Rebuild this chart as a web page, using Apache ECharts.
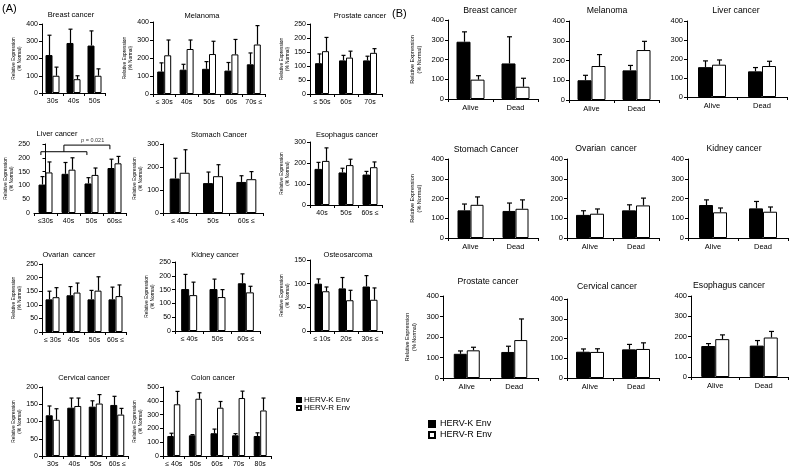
<!DOCTYPE html>
<html>
<head>
<meta charset="utf-8">
<script src="https://cdn.jsdelivr.net/npm/echarts@6/dist/echarts.min.js"></script>
<style>
  html, body { margin: 0; padding: 0; background: #fff; }
  #chart { width: 793px; height: 473px; }
</style>
</head>
<body>
<div id="chart"></div>
<script>
// ---------- (A) expression by age group ----------
const breastA_cats = ['30s', '40s', '50s'];
const breastA_k = [220, 290, 275];
const breastA_kTop = [335, 370, 360];
const breastA_r = [100, 80, 100];
const breastA_rTop = [150, 100, 140];

const melanomaA_cats = ['≤ 30s', '40s', '50s', '60s', '70s ≤'];
const melanomaA_k = [125, 135, 140, 130, 165];
const melanomaA_kTop = [173, 165, 180, 175, 228];
const melanomaA_r = [215, 250, 222, 220, 275];
const melanomaA_rTop = [300, 300, 293, 303, 380];

const prostateA_cats = ['≤ 50s', '60s', '70s'];
const prostateA_k = [110, 120, 120];
const prostateA_kTop = [143, 138, 135];
const prostateA_r = [153, 130, 147];
const prostateA_rTop = [202, 153, 162];

const liverA_cats = ['≤30s', '40s', '50s', '60s≤'];
const liverA_k = [103, 142, 107, 163];
const liverA_kTop = [132, 183, 128, 195];
const liverA_r = [147, 157, 138, 180];
const liverA_rTop = [185, 200, 163, 205];
// significance brackets, in (category position, value) units
const liverA_bracketLow = [[-0.2, 210], [-0.2, 222], [1.8, 222], [1.8, 210]];
const liverA_bracketHigh = [[0.8, 222], [0.8, 246], [2.8, 246], [2.8, 231]];
const liverA_pText = [[2.05, 247]];

const stomachA_cats = ['≤ 40s', '50s', '60s ≤'];
const stomachA_k = [150, 130, 135];
const stomachA_kTop = [238, 178, 162];
const stomachA_r = [175, 160, 147];
const stomachA_rTop = [275, 210, 180];

const esophagusA_cats = ['40s', '50s', '60s ≤'];
const esophagusA_k = [172, 155, 145];
const esophagusA_kTop = [203, 175, 160];
const esophagusA_r = [210, 190, 180];
const esophagusA_rTop = [272, 218, 205];

const ovarianA_cats = ['≤ 30s', '40s', '50s', '60s ≤'];
const ovarianA_k = [120, 135, 120, 120];
const ovarianA_kTop = [150, 167, 153, 165];
const ovarianA_r = [128, 145, 152, 132];
const ovarianA_rTop = [163, 180, 203, 173];

const kidneyA_cats = ['≤ 40s', '50s', '60s ≤'];
const kidneyA_k = [152, 152, 173];
const kidneyA_kTop = [205, 188, 207];
const kidneyA_r = [130, 123, 140];
const kidneyA_rTop = [177, 150, 162];

const osteoA_cats = ['≤ 10s', '20s', '30s ≤'];
const osteoA_k = [100, 90, 94];
const osteoA_kTop = [110, 113, 117];
const osteoA_r = [84, 65, 66];
const osteoA_rTop = [93, 86, 91];

const cervicalA_cats = ['30s', '40s', '50s', '60s ≤'];
const cervicalA_k = [118, 140, 143, 148];
const cervicalA_kTop = [145, 168, 160, 173];
const cervicalA_r = [105, 145, 152, 120];
const cervicalA_rTop = [137, 168, 178, 138];

const colonA_cats = ['≤ 40s', '50s', '60s', '70s', '80s'];
const colonA_k = [145, 150, 165, 150, 145];
const colonA_kTop = [165, 155, 195, 162, 168];
const colonA_r = [375, 415, 350, 420, 330];
const colonA_rTop = [468, 458, 395, 470, 420];

// ---------- (B) expression by survival ----------
const statusCats = ['Alive', 'Dead'];

const breastB_k = [290, 180];
const breastB_kTop = [340, 315];
const breastB_r = [98, 62];
const breastB_rTop = [118, 105];

const melanomaB_k = [100, 150];
const melanomaB_kTop = [125, 175];
const melanomaB_r = [172, 253];
const melanomaB_rTop = [230, 297];

const liverB_k = [157, 135];
const liverB_kTop = [190, 155];
const liverB_r = [170, 163];
const liverB_rTop = [195, 188];

const stomachB_k = [140, 137];
const stomachB_kTop = [172, 177];
const stomachB_r = [168, 148];
const stomachB_rTop = [208, 193];

const ovarianB_k = [117, 140];
const ovarianB_kTop = [138, 168];
const ovarianB_r = [123, 165];
const ovarianB_rTop = [147, 202];

const kidneyB_k = [167, 150];
const kidneyB_kTop = [193, 185];
const kidneyB_r = [130, 133];
const kidneyB_rTop = [152, 157];

const prostateB_k = [118, 127];
const prostateB_kTop = [132, 155];
const prostateB_r = [135, 185];
const prostateB_rTop = [150, 288];

const cervicalB_k = [133, 145];
const cervicalB_kTop = [147, 170];
const cervicalB_r = [132, 147];
const cervicalB_rTop = [148, 178];

const esophagusB_k = [153, 155];
const esophagusB_kTop = [165, 180];
const esophagusB_r = [187, 195];
const esophagusB_rTop = [208, 225];

// ---------- layout ----------
const styleA = { label: 7, name: 4.8, nameLH: 5.5, nameGap: 19, title: 7.5, cap: 2 };
const styleB = { label: 7.5, name: 5.5, nameLH: 7, nameGap: 25, title: 8.7, cap: 2.5 };

// box = [left, top, width, height] of the plot area; tx/ty = title centre
const panels = [
  { title: 'Breast cancer', cats: breastA_cats, k: breastA_k, kTop: breastA_kTop, r: breastA_r, rTop: breastA_rTop, max: 400, step: 100, box: [42, 24, 63, 69], barW: 7, tx: 71, ty: 15, s: styleA, yName: true },
  { title: 'Melanoma', cats: melanomaA_cats, k: melanomaA_k, kTop: melanomaA_kTop, r: melanomaA_r, rTop: melanomaA_rTop, max: 400, step: 100, box: [153, 22, 112, 72], barW: 7, tx: 202, ty: 16, s: styleA, yName: true },
  { title: 'Prostate cancer', cats: prostateA_cats, k: prostateA_k, kTop: prostateA_kTop, r: prostateA_r, rTop: prostateA_rTop, max: 250, step: 50, box: [310, 24, 72, 70], barW: 7, tx: 360, ty: 16, s: styleA, yName: true },
  { title: 'Liver cancer', cats: liverA_cats, k: liverA_k, kTop: liverA_kTop, r: liverA_r, rTop: liverA_rTop, max: 250, step: 50, box: [34, 144, 92, 69], barW: 7, tx: 57, ty: 134, s: styleA, yName: true },
  { title: 'Stomach Cancer', cats: stomachA_cats, k: stomachA_k, kTop: stomachA_kTop, r: stomachA_r, rTop: stomachA_rTop, max: 300, step: 100, box: [163, 144, 100, 69], barW: 10, tx: 219, ty: 135, s: styleA, yName: true },
  { title: 'Esophagus cancer', cats: esophagusA_cats, k: esophagusA_k, kTop: esophagusA_kTop, r: esophagusA_r, rTop: esophagusA_rTop, max: 300, step: 100, box: [310, 142, 72, 63], barW: 7.5, tx: 347, ty: 135, s: styleA, yName: true },
  { title: 'Ovarian  cancer', cats: ovarianA_cats, k: ovarianA_k, kTop: ovarianA_kTop, r: ovarianA_r, rTop: ovarianA_rTop, max: 250, step: 50, box: [42, 264, 84, 68], barW: 7, tx: 69, ty: 255, s: styleA, yName: true },
  { title: 'Kidney cancer', cats: kidneyA_cats, k: kidneyA_k, kTop: kidneyA_kTop, r: kidneyA_r, rTop: kidneyA_rTop, max: 250, step: 50, box: [175, 262, 85, 69], barW: 8, tx: 215, ty: 255, s: styleA, yName: true },
  { title: 'Osteosarcoma', cats: osteoA_cats, k: osteoA_k, kTop: osteoA_kTop, r: osteoA_r, rTop: osteoA_rTop, max: 150, step: 50, box: [310, 260, 72, 71], barW: 7.5, tx: 348, ty: 255, s: styleA, yName: true },
  { title: 'Cervical cancer', cats: cervicalA_cats, k: cervicalA_k, kTop: cervicalA_kTop, r: cervicalA_r, rTop: cervicalA_rTop, max: 200, step: 50, box: [42, 387, 86, 69], barW: 7, tx: 84, ty: 378, s: styleA, yName: true },
  { title: 'Colon cancer', cats: colonA_cats, k: colonA_k, kTop: colonA_kTop, r: colonA_r, rTop: colonA_rTop, max: 500, step: 100, box: [163, 387, 108, 69], barW: 6.5, tx: 213, ty: 378, s: styleA, yName: true },

  { title: 'Breast cancer', cats: statusCats, k: breastB_k, kTop: breastB_kTop, r: breastB_r, rTop: breastB_rTop, max: 400, step: 100, box: [448, 20, 90, 79], barW: 14, tx: 490, ty: 11, s: styleB, yName: true },
  { title: 'Melanoma', cats: statusCats, k: melanomaB_k, kTop: melanomaB_kTop, r: melanomaB_r, rTop: melanomaB_rTop, max: 400, step: 100, box: [569, 21, 90, 79], barW: 14, tx: 607, ty: 11, s: styleB, yName: false },
  { title: 'Liver cancer', cats: statusCats, k: liverB_k, kTop: liverB_kTop, r: liverB_r, rTop: liverB_rTop, max: 400, step: 100, box: [687, 21, 100, 76], barW: 14, tx: 736, ty: 11, s: styleB, yName: false },
  { title: 'Stomach Cancer', cats: statusCats, k: stomachB_k, kTop: stomachB_kTop, r: stomachB_r, rTop: stomachB_rTop, max: 400, step: 100, box: [448, 159, 90, 79], barW: 13, tx: 486, ty: 150, s: styleB, yName: true },
  { title: 'Ovarian  cancer', cats: statusCats, k: ovarianB_k, kTop: ovarianB_kTop, r: ovarianB_r, rTop: ovarianB_rTop, max: 400, step: 100, box: [567, 159, 92, 79], barW: 14, tx: 606, ty: 149, s: styleB, yName: false },
  { title: 'Kidney cancer', cats: statusCats, k: kidneyB_k, kTop: kidneyB_kTop, r: kidneyB_r, rTop: kidneyB_rTop, max: 400, step: 100, box: [688, 159, 100, 79], barW: 14, tx: 734, ty: 149, s: styleB, yName: false },
  { title: 'Prostate cancer', cats: statusCats, k: prostateB_k, kTop: prostateB_kTop, r: prostateB_r, rTop: prostateB_rTop, max: 400, step: 100, box: [443, 296, 95, 82], barW: 13, tx: 488, ty: 282, s: styleB, yName: true },
  { title: 'Cervical cancer', cats: statusCats, k: cervicalB_k, kTop: cervicalB_kTop, r: cervicalB_r, rTop: cervicalB_rTop, max: 400, step: 100, box: [567, 299, 92, 79], barW: 14, tx: 607, ty: 287, s: styleB, yName: false },
  { title: 'Esophagus cancer', cats: statusCats, k: esophagusB_k, kTop: esophagusB_kTop, r: esophagusB_r, rTop: esophagusB_rTop, max: 400, step: 100, box: [691, 296, 97, 81], barW: 14, tx: 729, ty: 286, s: styleB, yName: false }
];

// mean + SD whisker drawn over each bar
function errBars(gi, means, tops, side, barW, cap) {
  return {
    type: 'custom',
    xAxisIndex: gi,
    yAxisIndex: gi,
    z: 5,
    silent: true,
    data: means.map((m, j) => [j, m, tops[j]]),
    renderItem: function (params, api) {
      const a = api.coord([api.value(0), api.value(1)]);
      const b = api.coord([api.value(0), api.value(2)]);
      const x = Math.round(a[0] + side * barW / 2) + 0.5;
      return {
        type: 'group',
        children: [
          { type: 'line', shape: { x1: x, y1: a[1], x2: x, y2: b[1] }, style: { stroke: '#000', lineWidth: 1.2 } },
          { type: 'line', shape: { x1: x - cap, y1: b[1], x2: x + cap, y2: b[1] }, style: { stroke: '#000', lineWidth: 1.2 } }
        ]
      };
    }
  };
}

const grids = [], xAxes = [], yAxes = [], series = [], titles = [];
const black = '#000';

panels.forEach(function (p, i) {
  const s = p.s;
  grids.push({ left: p.box[0], top: p.box[1], width: p.box[2], height: p.box[3] });
  xAxes.push({
    type: 'category', gridIndex: i, data: p.cats,
    axisLine: { lineStyle: { color: black, width: 1 } },
    axisTick: { show: true, length: 3, lineStyle: { color: black } },
    axisLabel: { color: black, fontSize: s.label, margin: 5, interval: 0 }
  });
  yAxes.push({
    type: 'value', gridIndex: i, min: 0, max: p.max, interval: p.step,
    splitLine: { show: false },
    axisLine: { show: true, lineStyle: { color: black, width: 1 } },
    axisTick: { show: true, length: 3, lineStyle: { color: black } },
    axisLabel: { color: black, fontSize: s.label, margin: 4 },
    name: p.yName ? 'Relative Expression\n(% Normal)' : '',
    nameLocation: 'middle', nameRotate: 90, nameGap: s.nameGap,
    nameTextStyle: { color: black, fontSize: s.name, lineHeight: s.nameLH }
  });
  series.push({
    name: 'HERV-K Env', type: 'bar', xAxisIndex: i, yAxisIndex: i, data: p.k,
    barWidth: p.barW, barGap: 0, silent: true,
    itemStyle: { color: black, borderColor: black, borderWidth: 1 }
  });
  series.push({
    name: 'HERV-R Env', type: 'bar', xAxisIndex: i, yAxisIndex: i, data: p.r,
    barWidth: p.barW, barGap: 0, silent: true,
    itemStyle: { color: '#fff', borderColor: black, borderWidth: 1 }
  });
  series.push(errBars(i, p.k, p.kTop, -1, p.barW, s.cap));
  series.push(errBars(i, p.r, p.rTop, 1, p.barW, s.cap));
  titles.push({
    text: p.title, left: p.tx, top: p.ty - s.title * 0.6, textAlign: 'center', padding: 0,
    textStyle: { color: black, fontSize: s.title, fontWeight: 'normal' }
  });
});

// liver (A): hidden value x axis to place the p-value brackets
const liverIdx = 3;
const bracketAxis = xAxes.length;
xAxes.push({ type: 'value', gridIndex: liverIdx, min: -0.5, max: 3.5, show: false });
[liverA_bracketLow, liverA_bracketHigh].forEach(function (d) {
  series.push({
    type: 'line', xAxisIndex: bracketAxis, yAxisIndex: liverIdx, data: d,
    symbol: 'none', clip: false, silent: true, z: 6,
    lineStyle: { color: black, width: 1 }
  });
});
series.push({
  type: 'scatter', xAxisIndex: bracketAxis, yAxisIndex: liverIdx, data: liverA_pText,
  symbolSize: 0, clip: false, silent: true,
  label: {
    show: true, position: 'top', distance: 1, color: black, fontSize: 5.5,
    formatter: '{i|p} = 0.021', rich: { i: { fontStyle: 'italic', fontSize: 5.5 } }
  }
});

const chart = echarts.init(document.getElementById('chart'));
chart.setOption({
  animation: false,
  backgroundColor: '#fff',
  textStyle: { fontFamily: 'Liberation Sans, Arial, sans-serif' },
  title: titles,
  grid: grids,
  xAxis: xAxes,
  yAxis: yAxes,
  legend: [
    {
      data: ['HERV-K Env', 'HERV-R Env'], orient: 'vertical', left: 296, top: 396,
      icon: 'rect', itemWidth: 4, itemHeight: 4, itemGap: 0, padding: 0, selectedMode: false,
      textStyle: { color: black, fontSize: 8, lineHeight: 8, padding: [0, 0, 0, -2] }
    },
    {
      data: ['HERV-K Env', 'HERV-R Env'], orient: 'vertical', left: 428, top: 419,
      icon: 'rect', itemWidth: 6, itemHeight: 6, itemGap: 1, padding: 0, selectedMode: false,
      textStyle: { color: black, fontSize: 9, lineHeight: 10 }
    }
  ],
  graphic: [
    { type: 'text', left: 2, top: 3, style: { text: '(A)', fontSize: 11, fill: black, fontFamily: 'Liberation Sans' } },
    { type: 'text', left: 392, top: 8, style: { text: '(B)', fontSize: 11, fill: black, fontFamily: 'Liberation Sans' } }
  ],
  series: series
});
</script>
</body>
</html>
